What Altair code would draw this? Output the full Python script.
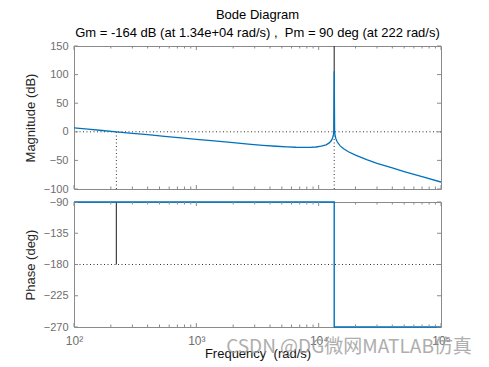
import altair as alt
import pandas as pd

# ---- data ----
mag_freq = [100, 130, 170, 222, 300, 400, 550, 750, 1000, 1400, 2000, 2800, 3500,
            4500, 5500, 6500, 7500, 8500, 9500, 10500, 11500, 12200, 12700, 13000,
            13200, 13300, 13400, 13500, 13600, 13800, 14200, 15000, 16000, 17500,
            20000, 25000, 30000, 40000, 50000, 70000, 100000]
mag_db = [6.9, 4.6, 2.3, 0.0, -2.6, -5.1, -7.9, -10.6, -13.1, -16.0, -19.0, -21.9, -23.7,
          -25.3, -26.3, -27.0, -27.3, -27.2, -26.6, -25.2, -22.7, -19.4, -15.3, -10.8,
          -5.0, 1.0, 106.0, 0.8, -5.3, -11.5, -17.9, -24.6, -29.7, -34.9,
          -40.9, -48.9, -55.0, -63.1, -69.5, -78.4, -87.8]
phase_freq = [100, 13400, 13400, 100000]
phase_deg = [-90, -90, -270, -270]

wcg = 13400     # gain margin frequency
wcp = 222       # phase margin frequency
gm_db = 164
pm_deg = 90

x_major = [100, 1000, 10000, 100000]
x_minor = [k * 10 ** d for d in (2, 3, 4) for k in range(2, 10)]
mag_ticks = [-100, -50, 0, 50, 100, 150]
phase_ticks = [-270, -225, -180, -135, -90]

title_main = "Bode Diagram"
title_sub = "Gm = -164 dB (at 1.34e+04 rad/s) ,\u00a0 Pm = 90 deg (at 222 rad/s)"
x_title = "Frequency\u00a0 (rad/s)"
watermark = "CSDN @DG微网MATLAB仿真"

# ---- styling ----
W, H1, H2 = 367, 143, 125
BLUE = "#0072BD"
FRAME = "#8a8a8a"
DARK = "#333333"
FONT = "Liberation Sans"

xscale = alt.Scale(type="log", domain=[100, 100000], nice=False)


def y_axis(vals, title):
    return alt.Axis(values=vals, title=title, grid=False, domain=False, ticks=False,
                    labelPadding=6, titlePadding=6, labelFontSize=11, titleFontSize=13,
                    titleFontWeight="normal", labelColor="#6e6e6e", titleColor="#262626",
                    labelFont=FONT, titleFont=FONT)


X_top = alt.X("f:Q", scale=xscale, axis=None)
X_bot = alt.X("f:Q", scale=xscale,
              axis=alt.Axis(values=x_major, title=x_title, grid=False,
                            domain=False, ticks=False, labelFlush=False,
                            labelExpr="'10' + (datum.value == 100 ? '²' : datum.value == 1000 ? '³' : datum.value == 10000 ? '⁴' : '⁵')",
                            labelPadding=8, titlePadding=1, labelFontSize=12,
                            titleFontSize=13, titleFontWeight="normal",
                            labelColor="#6e6e6e", titleColor="#111111",
                            labelFont=FONT, titleFont=FONT))
Y_top = alt.Y("v:Q", scale=alt.Scale(domain=[-100, 150], nice=False),
              axis=y_axis(mag_ticks, "Magnitude (dB)"))
Y_bot = alt.Y("v:Q", scale=alt.Scale(domain=[-270, -90], nice=False),
              axis=y_axis(phase_ticks, "Phase (deg)"))


def tick_layers(X, Y, H, yvals):
    layers = []
    for vals, ln in ((x_major, 4), (x_minor, 2.5)):
        d = alt.Chart(pd.DataFrame({"f": vals}))
        layers.append(d.mark_rule(color=FRAME).encode(x=X, y=alt.value(0), y2=alt.value(ln)))
        layers.append(d.mark_rule(color=FRAME).encode(x=X, y=alt.value(H), y2=alt.value(H - ln)))
    d = alt.Chart(pd.DataFrame({"v": yvals}))
    layers.append(d.mark_rule(color=FRAME).encode(y=Y, x=alt.value(0), x2=alt.value(4)))
    layers.append(d.mark_rule(color=FRAME).encode(y=Y, x=alt.value(W - 4), x2=alt.value(W)))
    return layers


# ---- magnitude panel ----
mag_df = pd.DataFrame({"f": mag_freq, "v": mag_db, "i": range(len(mag_freq))})
zero_line = alt.Chart(pd.DataFrame({"v": [0]})).mark_rule(
    color=DARK, strokeDash=[1, 2.5], strokeWidth=1).encode(y=Y_top)
vdots = alt.Chart(pd.DataFrame({"f": [wcp, wcg], "v": [-100, -100], "v2": [0, 0]})).mark_rule(
    color=DARK, strokeDash=[1, 2.5], strokeWidth=1).encode(x=X_top, y=Y_top, y2="v2:Q")
gm_line = alt.Chart(pd.DataFrame({"f": [wcg], "v": [0], "v2": [gm_db]})).mark_rule(
    color="#404040", strokeWidth=1.2, clip=True).encode(x=X_top, y=Y_top, y2="v2:Q")
mag_line = alt.Chart(mag_df).mark_line(color=BLUE, strokeWidth=1.3, clip=True).encode(
    x=X_top, y=Y_top, order="i:Q")

top = alt.layer(zero_line, vdots, gm_line, mag_line,
                *tick_layers(X_top, Y_top, H1, mag_ticks)).properties(
    width=W, height=H1,
    title=alt.TitleParams(title_main, subtitle=title_sub, anchor="middle", frame="group",
                          fontSize=13, subtitleFontSize=13, fontWeight="normal",
                          color="#000000", subtitleColor="#000000", font=FONT,
                          subtitleFont=FONT, subtitlePadding=5, offset=0))

# ---- phase panel ----
ph_df = pd.DataFrame({"f": phase_freq, "v": phase_deg, "i": range(len(phase_freq))})
m180 = alt.Chart(pd.DataFrame({"v": [-180]})).mark_rule(
    color=DARK, strokeDash=[1, 2.5], strokeWidth=1).encode(y=Y_bot)
pm_line = alt.Chart(pd.DataFrame({"f": [wcp], "v": [-180], "v2": [-180 + pm_deg]})).mark_rule(
    color="#404040", strokeWidth=1.2).encode(x=X_bot, y=Y_bot, y2="v2:Q")
ph_line = alt.Chart(ph_df).mark_line(color=BLUE, strokeWidth=1.4).encode(
    x=X_bot, y=Y_bot, order="i:Q")
wm = alt.Chart(pd.DataFrame({"t": [watermark]})).mark_text(
    font="Noto Sans CJK SC", fontSize=19, color="#9a9a9a", opacity=0.8,
    align="center", baseline="middle").encode(
    text="t:N", x=alt.value(275), y=alt.value(145))

bottom = alt.layer(m180, pm_line, ph_line,
                   *tick_layers(X_bot, Y_bot, H2, phase_ticks), wm).properties(
    width=W, height=H2)

chart = alt.vconcat(top, bottom, spacing=13, bounds="flush").properties(
    padding={"left": 15, "top": 0, "right": 5, "bottom": 5},
    background="white"
).configure_view(stroke=FRAME, strokeWidth=1)

chart.save("out.html", embed_options={"renderer": "svg", "actions": False})
